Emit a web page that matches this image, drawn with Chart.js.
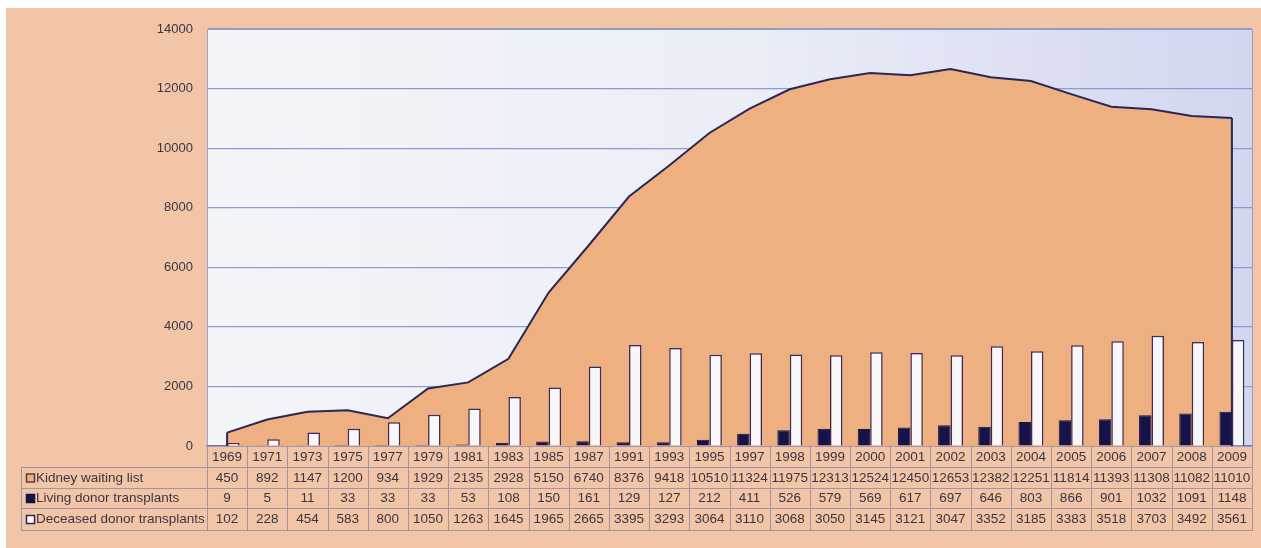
<!DOCTYPE html>
<html>
<head>
<meta charset="utf-8">
<script src="https://cdn.jsdelivr.net/npm/chart.js@4"></script>
<style>
  html, body { margin: 0; padding: 0; background: #ffffff; width: 1261px; height: 548px; overflow: hidden; }
  #sheet { position: absolute; left: 6px; top: 8px; width: 1255px; height: 540px; background: #f1c5a6; }
  #c { position: absolute; left: 0; top: 0; }
</style>
</head>
<body>
<div id="sheet"></div>
<canvas id="c" width="1261" height="548"></canvas>
<script>
// Kidney waiting list vs. transplants, by year
const years = ['1969','1971','1973','1975','1977','1979','1981','1983','1985','1987',
  '1991','1993','1995','1997','1998','1999','2000','2001','2002','2003','2004','2005',
  '2006','2007','2008','2009'];
const waitingList = [450,892,1147,1200,934,1929,2135,2928,5150,6740,8376,9418,10510,
  11324,11975,12313,12524,12450,12653,12382,12251,11814,11393,11308,11082,11010];
const livingDonor = [9,5,11,33,33,33,53,108,150,161,129,127,212,411,526,579,569,617,
  697,646,803,866,901,1032,1091,1148];
const deceasedDonor = [102,228,454,583,800,1050,1263,1645,1965,2665,3395,3293,3064,
  3110,3068,3050,3145,3121,3047,3352,3185,3383,3518,3703,3492,3561];
const seriesNames = ['Kidney waiting list','Living donor transplants','Deceased donor transplants'];
const yTicks = { min: 0, max: 14000, step: 2000 };

const FONT_FAMILY = '"Liberation Sans", Arial, sans-serif';
const TEXT = '#3a3646';
const GRID = '#8f9ad3';
const TABLE_LINE = '#a393a8';
const AREA_FILL = '#eeb081';
const AREA_LINE = '#2a2656';
const NAVY = '#16124a';
const WHITE_BAR = '#f7f7f9';

// Light plot background, whitish on the left fading to lavender on the right
const plotBackground = {
  id: 'plotBackground',
  beforeDraw(chart) {
    const { ctx, chartArea: a } = chart;
    const g = ctx.createLinearGradient(a.left, 0, a.right, 0);
    g.addColorStop(0, '#f4f5f9');
    g.addColorStop(0.5, '#eceef7');
    g.addColorStop(1, '#d2d6ef');
    ctx.save();
    ctx.fillStyle = g;
    ctx.fillRect(a.left, a.top, a.right - a.left, a.bottom - a.top);
    ctx.restore();
  }
};

// Close the area outline with vertical edges at the first and last year
const areaEdges = {
  id: 'areaEdges',
  afterDatasetDraw(chart, args) {
    if (args.index !== 0) return;
    const pts = args.meta.data;
    const y0 = chart.scales.y.getPixelForValue(0);
    const first = pts[0], last = pts[pts.length - 1];
    const ctx = chart.ctx;
    ctx.save();
    ctx.strokeStyle = AREA_LINE;
    ctx.lineWidth = 2;
    ctx.beginPath();
    ctx.moveTo(first.x, y0); ctx.lineTo(first.x, first.y);
    ctx.moveTo(last.x, last.y); ctx.lineTo(last.x, y0);
    ctx.stroke();
    ctx.restore();
  }
};

// Data table under the axis: one column per year, one row per series
const dataTable = {
  id: 'dataTable',
  afterDraw(chart) {
    const { ctx, chartArea: a } = chart;
    const xs = chart.scales.x;
    const n = years.length;
    const colW = (xs.right - xs.left) / n;
    const rowsTop = 467, rowH = [21, 20, 22];
    const rowY = [rowsTop, rowsTop + rowH[0], rowsTop + rowH[0] + rowH[1], rowsTop + rowH[0] + rowH[1] + rowH[2]];
    const labelLeft = 21;
    const tableBottom = rowY[3];

    ctx.save();
    // plot frame: top and right edges
    ctx.strokeStyle = '#a09ab8';
    ctx.lineWidth = 1;
    ctx.beginPath();
    ctx.moveTo(a.left, a.top + 0.5); ctx.lineTo(a.right, a.top + 0.5);
    ctx.moveTo(a.right + 0.5, a.top); ctx.lineTo(a.right + 0.5, a.bottom);
    ctx.stroke();

    // table grid
    ctx.strokeStyle = TABLE_LINE;
    ctx.beginPath();
    for (let i = 0; i <= n; i++) {
      const x = Math.round(xs.left + i * colW) + 0.5;
      ctx.moveTo(x, a.bottom); ctx.lineTo(x, tableBottom);
    }
    ctx.moveTo(labelLeft + 0.5, rowY[0]); ctx.lineTo(labelLeft + 0.5, tableBottom);
    rowY.forEach(y => { ctx.moveTo(labelLeft, y + 0.5); ctx.lineTo(xs.right + 1, y + 0.5); });
    ctx.stroke();

    // row labels with swatches
    const swatches = [
      { fill: AREA_FILL, stroke: '#5a3f3a' },
      { fill: NAVY, stroke: NAVY },
      { fill: '#ffffff', stroke: '#2c2658' }
    ];
    const rows = [waitingList, livingDonor, deceasedDonor];
    ctx.font = '13.5px ' + FONT_FAMILY;
    ctx.textBaseline = 'middle';
    for (let r = 0; r < 3; r++) {
      const cy = (rowY[r] + rowY[r + 1]) / 2 + 0.5;
      ctx.fillStyle = swatches[r].fill;
      ctx.strokeStyle = swatches[r].stroke;
      ctx.lineWidth = 1.5;
      ctx.fillRect(26.5, cy - 4, 8, 8);
      ctx.strokeRect(26.5, cy - 4, 8, 8);
      ctx.fillStyle = TEXT;
      ctx.textAlign = 'left';
      ctx.fillText(seriesNames[r], 36, cy);
      ctx.textAlign = 'center';
      for (let i = 0; i < n; i++) {
        const cx = xs.getPixelForValue(i);
        ctx.fillText(String(rows[r][i]), cx, cy);
      }
    }
    ctx.restore();
  }
};

new Chart(document.getElementById('c'), {
  data: {
    labels: years,
    datasets: [
      {
        type: 'line',
        label: seriesNames[0],
        data: waitingList,
        borderColor: AREA_LINE,
        borderWidth: 2,
        backgroundColor: AREA_FILL,
        fill: 'origin',
        pointRadius: 0,
        tension: 0,
        order: 3
      },
      {
        type: 'bar',
        label: seriesNames[1],
        data: livingDonor,
        backgroundColor: NAVY,
        borderColor: NAVY,
        borderWidth: 1,
        categoryPercentage: 0.62,
        barPercentage: 1,
        order: 1
      },
      {
        type: 'bar',
        label: seriesNames[2],
        data: deceasedDonor,
        backgroundColor: WHITE_BAR,
        borderColor: '#3a2c5c',
        borderWidth: 1.5,
        categoryPercentage: 0.62,
        barPercentage: 1,
        order: 2
      }
    ]
  },
  options: {
    responsive: false,
    animation: false,
    layout: { padding: { top: 29, right: 9, left: 0, bottom: 0 } },
    plugins: { legend: { display: false }, tooltip: { enabled: false } },
    scales: {
      x: {
        offset: true,
        grid: { display: false, drawTicks: false },
        border: { display: true, color: '#6f76ae', width: 1.5 },
        ticks: {
          color: TEXT,
          padding: 3,
          maxRotation: 0,
          autoSkip: false,
          font: { family: FONT_FAMILY, size: 13.5 }
        },
        afterFit(scale) { scale.height = 102; }
      },
      y: {
        min: yTicks.min,
        max: yTicks.max,
        grid: { color: GRID, lineWidth: 1.2, drawTicks: false },
        border: { display: true, color: '#9aa2d6', width: 1 },
        ticks: {
          stepSize: yTicks.step,
          color: TEXT,
          padding: 14,
          font: { family: FONT_FAMILY, size: 13 },
          callback: v => String(v)
        },
        afterFit(scale) { scale.width = 207; }
      }
    }
  },
  plugins: [plotBackground, areaEdges, dataTable]
});
</script>
</body>
</html>
